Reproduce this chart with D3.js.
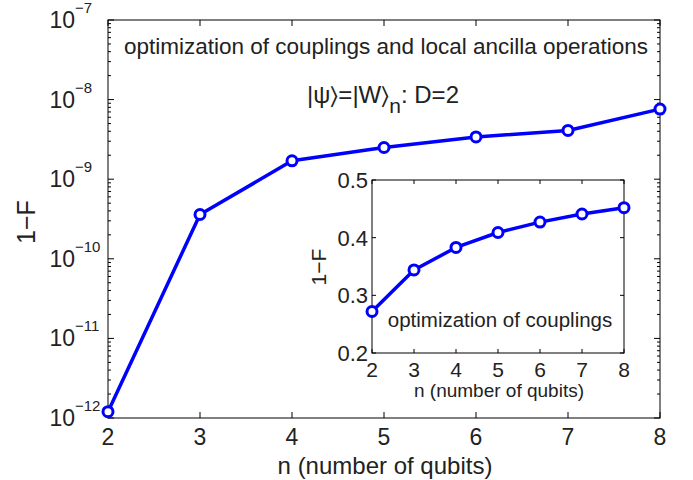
<!DOCTYPE html>
<html>
<head>
<meta charset="utf-8">
<script src="https://cdn.jsdelivr.net/npm/d3@7"></script>
<style>
  body { margin: 0; background: #fff; }
  text { font-family: "Liberation Sans", Arial, sans-serif; fill: #222; }
</style>
</head>
<body>
<div id="chart"></div>
<script>
// data
const qubits = [2, 3, 4, 5, 6, 7, 8];
const infidelityFull = [1.2e-12, 3.6e-10, 1.7e-9, 2.5e-9, 3.4e-9, 4.1e-9, 7.6e-9];
const infidelityCouplings = [0.272, 0.344, 0.383, 0.409, 0.427, 0.441, 0.452];
const mainYExponents = [-12, -11, -10, -9, -8, -7];
const insetYTicks = [0.2, 0.3, 0.4, 0.5];

const W = 693, H = 480;
const svg = d3.select('#chart').append('svg')
  .attr('width', W).attr('height', H);

const blue = '#0000ff';

// axes principais
const main = { left: 108, right: 660, top: 20, bottom: 418 };
const x = d3.scaleLinear().domain([2, 8]).range([main.left, main.right]);
const y = d3.scaleLog().domain([1e-12, 1e-7]).range([main.bottom, main.top]);

const g = svg.append('g');

// ticks menores do eixo log
const minor = [];
mainYExponents.slice(0, -1).forEach(e => {
  for (let k = 2; k <= 9; k++) minor.push(k * Math.pow(10, e));
});

function drawTicks(group, xs, ys, xScale, yScale, box, majLen, minLen, minorY) {
  xs.forEach(v => {
    const px = xScale(v);
    group.append('line').attr('x1', px).attr('x2', px).attr('y1', box.bottom).attr('y2', box.bottom - majLen);
    group.append('line').attr('x1', px).attr('x2', px).attr('y1', box.top).attr('y2', box.top + majLen);
  });
  ys.forEach(v => {
    const py = yScale(v);
    group.append('line').attr('x1', box.left).attr('x2', box.left + majLen).attr('y1', py).attr('y2', py);
    group.append('line').attr('x1', box.right).attr('x2', box.right - majLen).attr('y1', py).attr('y2', py);
  });
  (minorY || []).forEach(v => {
    const py = yScale(v);
    group.append('line').attr('x1', box.left).attr('x2', box.left + minLen).attr('y1', py).attr('y2', py);
    group.append('line').attr('x1', box.right).attr('x2', box.right - minLen).attr('y1', py).attr('y2', py);
  });
  group.selectAll('line').attr('stroke', '#000').attr('stroke-width', 1);
}

const mainTicks = g.append('g');
drawTicks(mainTicks, qubits, mainYExponents.map(e => Math.pow(10, e)), x, y, main, 6, 3, minor);

g.append('rect')
  .attr('x', main.left).attr('y', main.top)
  .attr('width', main.right - main.left).attr('height', main.bottom - main.top)
  .attr('fill', 'none').attr('stroke', '#000').attr('stroke-width', 1);

// labels do eixo x
g.selectAll('.xl').data(qubits).enter().append('text')
  .attr('x', d => x(d)).attr('y', main.bottom + 27)
  .attr('text-anchor', 'middle').style('font-size', '23px')
  .text(d => d);

// labels do eixo y (10 com expoente)
mainYExponents.forEach(e => {
  const py = y(Math.pow(10, e));
  g.append('text')
    .attr('x', 75).attr('y', py + 8)
    .attr('text-anchor', 'end').style('font-size', '23px')
    .text('10');
  g.append('text')
    .attr('x', 75).attr('y', py - 7)
    .style('font-size', '15px')
    .text('\u2212' + Math.abs(e));
});

g.append('text')
  .attr('transform', `translate(35, 222) rotate(-90)`)
  .attr('text-anchor', 'middle').style('font-size', '25px')
  .text('1\u2212F');

g.append('text')
  .attr('x', 385).attr('y', 474)
  .attr('text-anchor', 'middle').style('font-size', '24px')
  .text('n (number of qubits)');

// anotações
g.append('text')
  .attr('x', 386).attr('y', 54)
  .attr('text-anchor', 'middle').style('font-size', '22.5px')
  .text('optimization of couplings and local ancilla operations');

const ann = g.append('text')
  .attr('x', 383).attr('y', 103)
  .attr('text-anchor', 'middle').style('font-size', '24px');
ann.append('tspan').text('|\u03c8\u232a=|W\u232a');
ann.append('tspan').attr('dy', 10).style('font-size', '21px').text('n');
ann.append('tspan').attr('dy', -10).text(': D=2');

// série principal
const line = d3.line().x((d, i) => x(qubits[i])).y(d => y(d));
g.append('path').datum(infidelityFull)
  .attr('d', line).attr('fill', 'none')
  .attr('stroke', blue).attr('stroke-width', 3.5).attr('stroke-linejoin', 'round');
g.selectAll('.pt').data(infidelityFull).enter().append('circle')
  .attr('cx', (d, i) => x(qubits[i])).attr('cy', d => y(d)).attr('r', 5)
  .attr('fill', '#fff').attr('stroke', blue).attr('stroke-width', 3);

// inset
const inset = { left: 372, right: 624, top: 180, bottom: 353 };
const xi = d3.scaleLinear().domain([2, 8]).range([inset.left, inset.right]);
const yi = d3.scaleLinear().domain([0.2, 0.5]).range([inset.bottom, inset.top]);
const gi = svg.append('g');

gi.append('rect')
  .attr('x', inset.left).attr('y', inset.top)
  .attr('width', inset.right - inset.left).attr('height', inset.bottom - inset.top)
  .attr('fill', '#fff');

const insetTicks = gi.append('g');
drawTicks(insetTicks, qubits, insetYTicks, xi, yi, inset, 4, 0, []);

gi.append('rect')
  .attr('x', inset.left).attr('y', inset.top)
  .attr('width', inset.right - inset.left).attr('height', inset.bottom - inset.top)
  .attr('fill', 'none').attr('stroke', '#000').attr('stroke-width', 1);

gi.selectAll('.xil').data(qubits).enter().append('text')
  .attr('x', d => xi(d)).attr('y', inset.bottom + 24)
  .attr('text-anchor', 'middle').style('font-size', '21px')
  .text(d => d);

gi.selectAll('.yil').data(insetYTicks).enter().append('text')
  .attr('x', inset.left - 4).attr('y', d => yi(d) + 8)
  .attr('text-anchor', 'end').style('font-size', '22px')
  .text(d => d.toFixed(1));

gi.append('text')
  .attr('transform', `translate(326, 267) rotate(-90)`)
  .attr('text-anchor', 'middle').style('font-size', '21px')
  .text('1\u2212F');

gi.append('text')
  .attr('x', 499).attr('y', 397)
  .attr('text-anchor', 'middle').style('font-size', '19px')
  .text('n (number of qubits)');

gi.append('text')
  .attr('x', 500).attr('y', 327)
  .attr('text-anchor', 'middle').style('font-size', '20.5px')
  .text('optimization of couplings');

const linei = d3.line().x((d, i) => xi(qubits[i])).y(d => yi(d));
gi.append('path').datum(infidelityCouplings)
  .attr('d', linei).attr('fill', 'none')
  .attr('stroke', blue).attr('stroke-width', 3.5).attr('stroke-linejoin', 'round');
gi.selectAll('.pti').data(infidelityCouplings).enter().append('circle')
  .attr('cx', (d, i) => xi(qubits[i])).attr('cy', d => yi(d)).attr('r', 5)
  .attr('fill', '#fff').attr('stroke', blue).attr('stroke-width', 3);
</script>
</body>
</html>
